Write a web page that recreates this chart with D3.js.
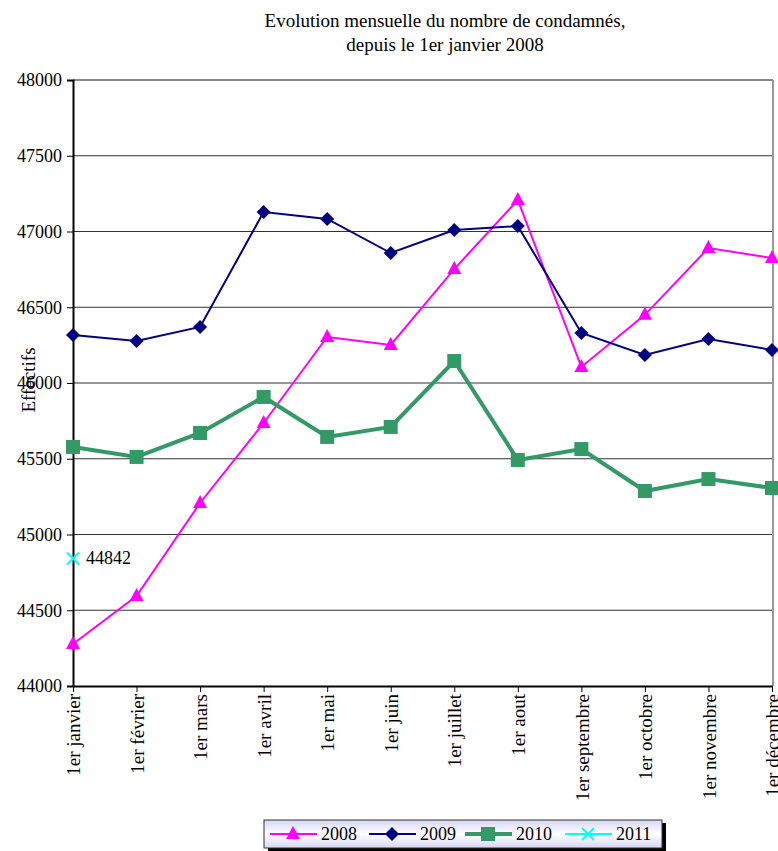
<!DOCTYPE html>
<html>
<head>
<meta charset="utf-8">
<script src="https://cdn.jsdelivr.net/npm/d3@7"></script>
<style>
  body { margin: 0; background: #fff; }
  svg { font-family: "Liberation Serif", "Times New Roman", serif; }
</style>
</head>
<body>
<svg id="chart" width="778" height="851"></svg>
<script>
// Month labels (x categories)
const months = ['1er janvier', '1er février', '1er mars', '1er avril', '1er mai', '1er juin',
    '1er juillet', '1er aout', '1er septembre', '1er octobre', '1er novembre', '1er décembre'];

// Values
const values2008 = [44277, 44594, 45208, 45736, 46304, 46251, 46752, 47208, 46106, 46450, 46891, 46825];
const values2009 = [46317, 46277, 46370, 47129, 47083, 46858, 47010, 47036, 46330, 46185, 46290, 46218];
const values2010 = [45578, 45512, 45670, 45908, 45644, 45710, 46145, 45492, 45564, 45287, 45366, 45307];
const values2011 = [44842];

const yTicks = [44000, 44500, 45000, 45500, 46000, 46500, 47000, 47500, 48000];

const series = [
    { name: '2008', values: values2008, color: '#FF00FF', width: 2, marker: 'triangle' },
    { name: '2009', values: values2009, color: '#000080', width: 2, marker: 'diamond' },
    { name: '2010', values: values2010, color: '#339966', width: 4, marker: 'square' },
    { name: '2011', values: values2011, color: '#00FFFF', width: 2, marker: 'cross' }
];

const svg = d3.select('#chart');
const plot = { left: 73, right: 772, top: 80, bottom: 686 };

const x = d3.scalePoint().domain(months).range([plot.left, plot.right]);
const y = d3.scaleLinear().domain([44000, 48000]).range([plot.bottom, plot.top]);

// Title
const title = svg.append('text')
    .attr('text-anchor', 'middle')
    .attr('font-size', 19).attr('fill', '#000');
title.append('tspan').attr('x', 445).attr('y', 27).text('Evolution mensuelle du nombre de condamnés,');
title.append('tspan').attr('x', 445).attr('y', 51).text('depuis le 1er janvier 2008');

// Gridlines
svg.append('g')
    .selectAll('line')
    .data(yTicks.filter(d => d > 44000 && d < 48000))
    .join('line')
    .attr('x1', plot.left).attr('x2', plot.right)
    .attr('y1', d => y(d)).attr('y2', d => y(d))
    .attr('stroke', '#333').attr('stroke-width', 1);

// Plot frame top / right (gray)
svg.append('line')
    .attr('x1', plot.left).attr('x2', plot.right + 1)
    .attr('y1', plot.top).attr('y2', plot.top)
    .attr('stroke', '#888').attr('stroke-width', 2);
svg.append('line')
    .attr('x1', plot.right + 1).attr('x2', plot.right + 1)
    .attr('y1', plot.top).attr('y2', plot.bottom)
    .attr('stroke', '#999').attr('stroke-width', 2);

// Y axis
const yAxis = svg.append('g')
    .attr('transform', `translate(${plot.left},0)`)
    .call(d3.axisLeft(y).tickValues(yTicks).tickSize(6).tickPadding(5).tickFormat(d3.format('d')));
yAxis.select('.domain').attr('stroke', '#000').attr('stroke-width', 2);
yAxis.selectAll('text').attr('font-size', 18).attr('font-family', 'Liberation Serif').attr('fill', '#000');
yAxis.selectAll('line').attr('stroke', '#000');

// X axis
const xAxis = svg.append('g')
    .attr('transform', `translate(0,${plot.bottom})`)
    .call(d3.axisBottom(x).tickSize(6).tickSizeOuter(0));
xAxis.select('.domain').attr('stroke', '#000').attr('stroke-width', 2);
xAxis.selectAll('line').attr('stroke', '#000');
xAxis.selectAll('text')
    .attr('font-size', 19).attr('font-family', 'Liberation Serif').attr('fill', '#000')
    .attr('text-anchor', 'end')
    .attr('transform', 'rotate(-90)')
    .attr('x', -8).attr('y', 0).attr('dy', '0.35em');

// Y axis title
svg.append('text')
    .attr('transform', 'translate(35,380) rotate(-90)')
    .attr('text-anchor', 'middle')
    .attr('font-size', 19)
    .text('Effectifs');

// Marker drawing
function drawMarker(g, type, color, cx, cy) {
    if (type === 'triangle') {
        g.append('path').attr('d', `M${cx},${cy - 8}L${cx + 7},${cy + 5}L${cx - 7},${cy + 5}Z`).attr('fill', color);
    } else if (type === 'diamond') {
        g.append('path').attr('d', `M${cx},${cy - 7}L${cx + 7},${cy}L${cx},${cy + 7}L${cx - 7},${cy}Z`).attr('fill', color);
    } else if (type === 'square') {
        g.append('rect').attr('x', cx - 7).attr('y', cy - 7).attr('width', 14).attr('height', 14).attr('fill', color);
    } else if (type === 'cross') {
        g.append('path').attr('d', `M${cx - 6},${cy - 6}L${cx + 6},${cy + 6}M${cx - 6},${cy + 6}L${cx + 6},${cy - 6}`)
            .attr('stroke', color).attr('stroke-width', 2).attr('fill', 'none');
    }
}

const line = d3.line().x((d, i) => x(months[i])).y(d => y(d));

series.forEach(s => {
    const g = svg.append('g');
    g.append('path')
        .datum(s.values)
        .attr('d', line)
        .attr('fill', 'none')
        .attr('stroke', s.color)
        .attr('stroke-width', s.width);
    s.values.forEach((v, i) => drawMarker(g, s.marker, s.color, x(months[i]), y(v)));
});

// Data label for 2011
svg.append('text')
    .attr('x', x(months[0]) + 13).attr('y', y(values2011[0]) + 6)
    .attr('font-size', 18)
    .text(values2011[0]);

// Legend
const defs = svg.append('defs');
const grad = defs.append('linearGradient').attr('id', 'legGrad').attr('x1', 0).attr('y1', 0).attr('x2', 0).attr('y2', 1);
grad.append('stop').attr('offset', '0%').attr('stop-color', '#d6d6f5');
grad.append('stop').attr('offset', '50%').attr('stop-color', '#ffffff');
grad.append('stop').attr('offset', '100%').attr('stop-color', '#d6d6f5');

const legend = svg.append('g');
legend.append('rect').attr('x', 268).attr('y', 823).attr('width', 398).attr('height', 28).attr('fill', '#000');
legend.append('rect').attr('x', 264).attr('y', 820).attr('width', 398).attr('height', 28)
    .attr('fill', 'url(#legGrad)').attr('stroke', '#333').attr('stroke-width', 1);

const legendX = [270, 369, 465, 565];
series.forEach((s, i) => {
    const lx = legendX[i];
    const ly = 834;
    legend.append('line').attr('x1', lx).attr('x2', lx + 47).attr('y1', ly).attr('y2', ly)
        .attr('stroke', s.color).attr('stroke-width', s.width);
    drawMarker(legend, s.marker, s.color, lx + 23, ly);
    legend.append('text').attr('x', lx + 51).attr('y', ly + 6).attr('font-size', 18).text(s.name);
});
</script>
</body>
</html>
